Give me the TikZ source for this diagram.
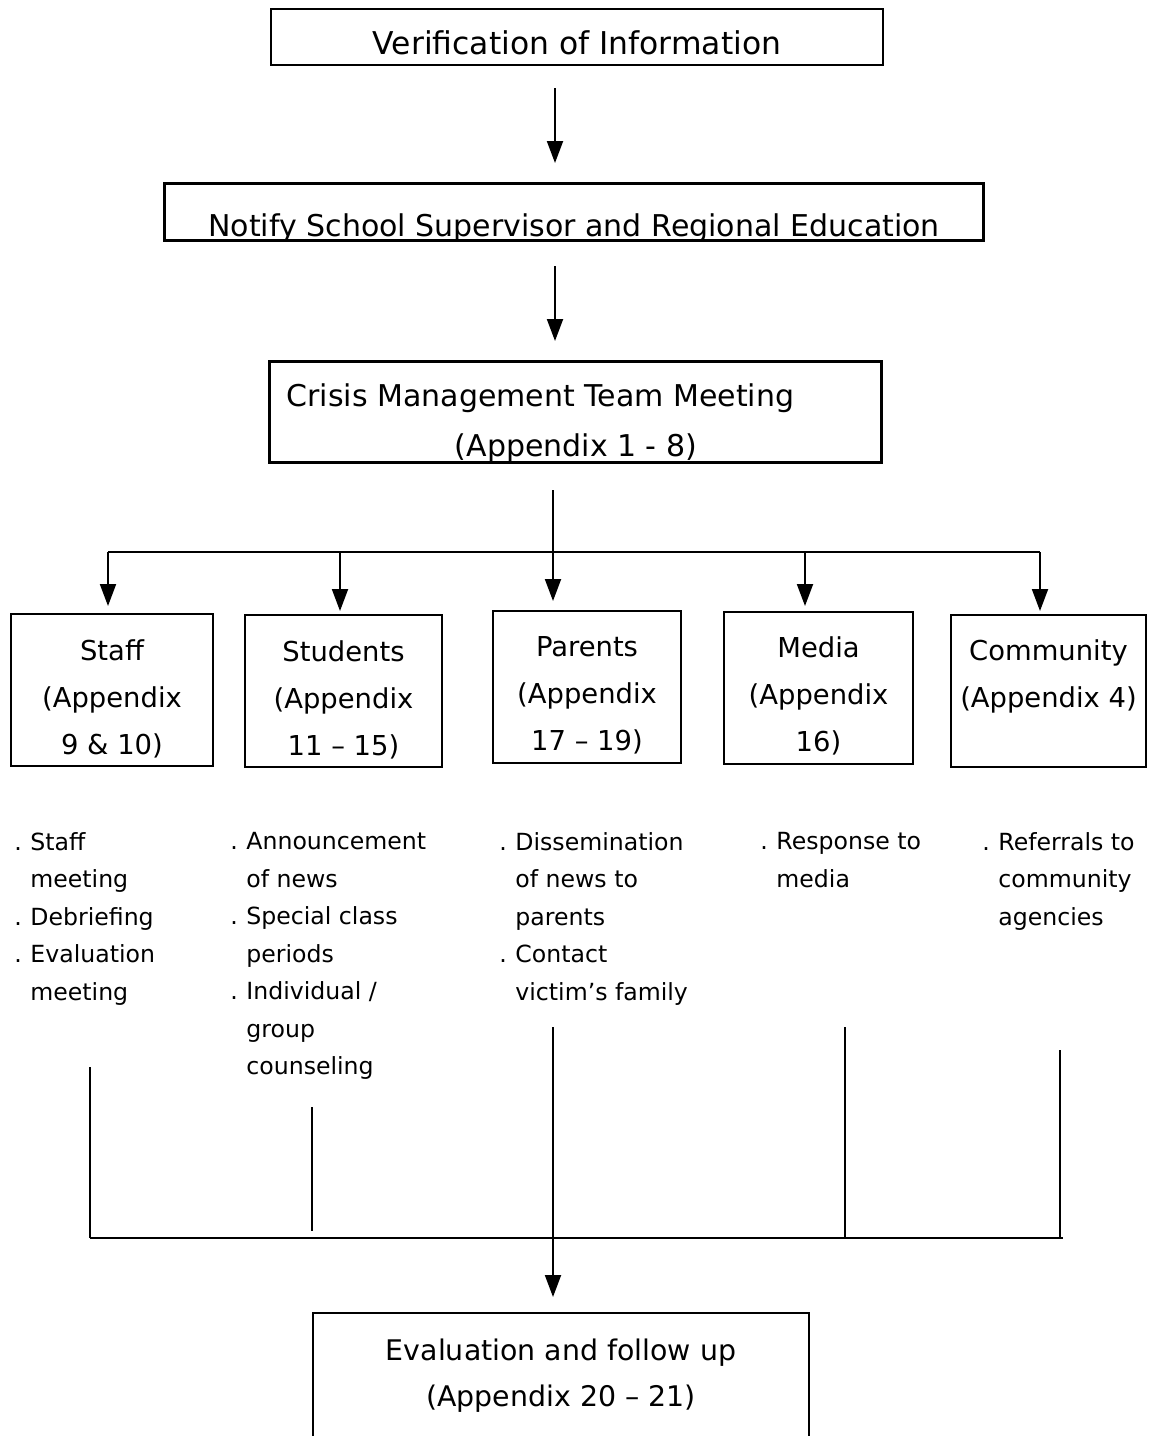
\documentclass[tikz,border=0pt]{standalone}
\usepackage{fontspec}
\setmainfont{DejaVu Sans}
\usetikzlibrary{arrows.meta}
\newcommand{\bl}{\makebox[0.68em][l]{.}}
\newcommand{\ind}{\hspace*{0.68em}}
\tikzset{
  box/.style={draw, line width=0.9pt, inner sep=0pt, fill=white},
  arr/.style={line width=1pt, -{Triangle[length=11pt,width=8pt]}},
  conn/.style={line width=0.8pt},
  thin/.style={line width=0.6pt},
  head/.style={font=\fontsize{13.7}{23.5}\selectfont, align=center, inner sep=0pt},
  bul/.style={font=\fontsize{11.8}{18.75}\selectfont, align=left, anchor=north west, inner sep=0pt},
  toptxt/.style={font=\fontsize{15}{23}\selectfont, inner sep=0pt},
}
\begin{document}
\begin{tikzpicture}[x=0.5pt,y=-0.5pt]
\useasboundingbox (0,0) rectangle (1164,1436);
% top boxes
\node[box, minimum width=306pt, minimum height=28pt] (b1) at (577,37) {};
\node[toptxt, font=\fontsize{15.7}{23}\selectfont] (t1) at (577,43) {Verification of Information};
\node[box, minimum width=409pt, minimum height=28pt] (b2) at (574,212) {};
\begin{scope}
  \clip (b2.north west) rectangle (b2.south east);
  \node[toptxt, anchor=base] (t2) at (574,236) {Notify School Supervisor and Regional Education};
\end{scope}
\draw[line width=0.9pt] (b2.north west) rectangle (b2.south east);
\node[box, minimum width=305.5pt, minimum height=50pt] (b3) at (575.5,412) {};
\node[toptxt, anchor=base] (t3a) at (540.5,406) {Crisis Management Team Meeting};
\begin{scope}
  \clip (b3.north west) rectangle (b3.south east);
  \node[toptxt, anchor=base] (t3b) at (576,456) {(Appendix 1 - 8)};
\end{scope}
\draw[line width=0.9pt] (b3.north west) rectangle (b3.south east);
% arrows between top boxes
\coordinate (a1s) at (555,88); \coordinate (a1e) at (555,163);
\coordinate (a2s) at (555,266); \coordinate (a2e) at (555,341);
\draw[arr] (a1s) -- (a1e);
\draw[arr] (a2s) -- (a2e);
% group boxes
\node[box, minimum width=101pt, minimum height=76pt] (staff) at (112,690) {};
\node[box, minimum width=98.5pt, minimum height=76pt] (stud) at (343.5,691) {};
\node[box, minimum width=94pt, minimum height=76pt] (par) at (587,687) {};
\node[box, minimum width=94.5pt, minimum height=76pt] (med) at (818.5,688) {};
\node[box, minimum width=97.5pt, minimum height=76pt] (com) at (1048.5,691) {};
\node[head] (staffT) at (112,699) {Staff\\(Appendix\\9 \& 10)};
\node[head] (studT) at (343.5,700) {Students\\(Appendix\\11 – 15)};
\node[head] (parT) at (587,695) {Parents\\(Appendix\\17 – 19)};
\node[head] (medT) at (818.5,696) {Media\\(Appendix\\16)};
\node[head] (comT) at (1048.5,676) {Community\\(Appendix 4)};
% fan out
\coordinate (fs) at (553,490); \coordinate (fe) at (553,601);
\coordinate (hl) at (108,552); \coordinate (hr) at (1040,552);
\draw[arr] (fs) -- (fe);
\draw[conn] (hl) -- (hr);
\coordinate (f1) at (108,606); \coordinate (h2) at (340,552); \coordinate (f2) at (340,611);
\coordinate (h4) at (805,552); \coordinate (f4) at (805,606); \coordinate (f5) at (1040,611);
\draw[arr] (hl) -- (f1);
\draw[arr] (h2) -- (f2);
\draw[arr] (h4) -- (f4);
\draw[arr] (hr) -- (f5);
% bullet lists
\node[bul] (l1) at (14,832) {\bl Staff\\ \ind meeting\\ \bl Debriefing\\ \bl Evaluation\\ \ind meeting};
\node[bul] (l2) at (230,832) {\bl Announcement\\ \ind of news\\ \bl Special class\\ \ind periods\\ \bl Individual /\\ \ind group\\ \ind counseling};
\node[bul] (l3) at (499,832) {\bl Dissemination\\ \ind of news to\\ \ind parents\\ \bl Contact\\ \ind victim’s family};
\node[bul] (l4) at (760,832) {\bl Response to\\ \ind media};
\node[bul] (l5) at (982,832) {\bl Referrals to\\ \ind community\\ \ind agencies};
% converging lines
\coordinate (v1t) at (90,1067); \coordinate (v1b) at (90,1238);
\coordinate (v2t) at (312,1107); \coordinate (v2b) at (312,1231);
\coordinate (v3t) at (553,1027); \coordinate (v3b) at (553,1297);
\coordinate (v4t) at (845,1027); \coordinate (v4b) at (845,1238);
\coordinate (v5t) at (1060,1050); \coordinate (v5b) at (1060,1238);
\coordinate (hbr) at (1063,1238);
\draw[thin] (v1t) -- (v1b);
\draw[thin] (v2t) -- (v2b);
\draw[thin] (v4t) -- (v4b);
\draw[thin] (v5t) -- (v5b);
\draw[conn] (v1b) -- (hbr);
\draw[arr] (v3t) -- (v3b);
% final box
\node[box, minimum width=248pt, minimum height=67pt] (fin) at (561,1380) {};
\node[toptxt, align=center, font=\fontsize{14.2}{23}\selectfont] (finT) at (561,1376) {Evaluation and follow up\\(Appendix 20 – 21)};
\end{tikzpicture}
\end{document}
